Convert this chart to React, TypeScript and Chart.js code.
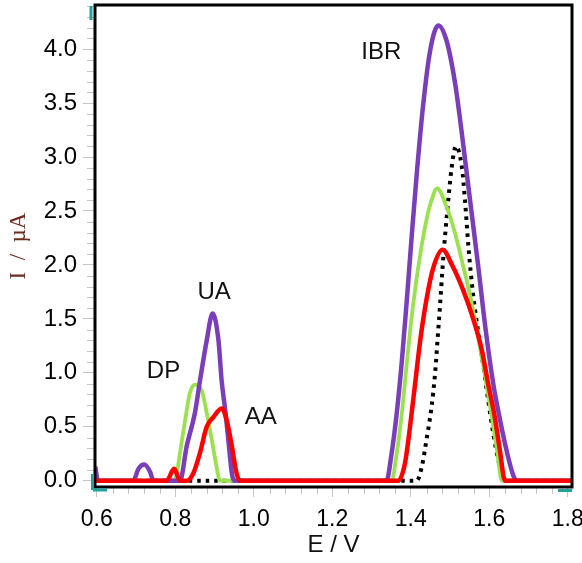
import React, { useEffect, useRef } from "react";
import { Chart, registerables } from "chart.js";

Chart.register(...registerables);

// ---- Axis ranges (E / V on x, I / µA on y) ----
const X_MIN = 0.5954;
const X_MAX = 1.8107;
const Y_MIN = -0.058;
const Y_MAX = 4.409;
const X_MAJOR_STEP = 0.2;
const X_MINOR_STEP = 0.04;
const Y_MAJOR_STEP = 0.5;
const Y_MINOR_STEP = 0.1;

// ---- Purple trace ----
const purpleE = [0.596, 0.603, 0.693, 0.706, 0.721, 0.736, 0.744, 0.812, 0.829, 0.85, 0.863, 0.88, 0.895, 0.91, 0.918, 0.928, 0.937, 0.944, 0.95, 1.338, 1.351, 1.364, 1.377, 1.39, 1.403, 1.416, 1.432, 1.449, 1.47, 1.491, 1.513, 1.53, 1.551, 1.572, 1.59, 1.61, 1.627, 1.644, 1.661, 1.67, 1.809];
const purpleI = [0.13, 0, 0, 0.11, 0.15, 0.08, 0, 0, 0.32, 0.63, 0.93, 1.3, 1.55, 1.3, 0.93, 0.63, 0.31, 0.07, 0, 0, 0.25, 0.62, 1.1, 1.68, 2.3, 2.88, 3.5, 3.98, 4.22, 4.08, 3.68, 3.22, 2.6, 1.98, 1.42, 0.9, 0.57, 0.28, 0.05, 0, 0];

// ---- Green trace ----
const greenE = [0.596, 0.602, 0.795, 0.803, 0.812, 0.825, 0.837, 0.85, 0.867, 0.88, 0.893, 0.905, 0.914, 1.351, 1.364, 1.377, 1.389, 1.4, 1.412, 1.425, 1.44, 1.453, 1.467, 1.491, 1.513, 1.534, 1.551, 1.568, 1.585, 1.602, 1.619, 1.632, 1.809];
const greenI = [0.08, 0, 0, 0.05, 0.26, 0.56, 0.81, 0.89, 0.84, 0.63, 0.38, 0.13, 0, 0, 0.25, 0.62, 1.06, 1.45, 1.8, 2.12, 2.42, 2.6, 2.71, 2.54, 2.29, 1.98, 1.72, 1.4, 1.06, 0.69, 0.3, 0, 0];

// ---- Red trace ----
const redE = [0.596, 0.778, 0.797, 0.812, 0.829, 0.846, 0.863, 0.88, 0.897, 0.918, 0.931, 0.944, 0.956, 0.965, 1.368, 1.385, 1.398, 1.411, 1.424, 1.44, 1.457, 1.481, 1.505, 1.532, 1.559, 1.581, 1.597, 1.614, 1.627, 1.64, 1.809];
const redI = [0, 0, 0.11, 0, 0, 0.07, 0.26, 0.5, 0.59, 0.67, 0.56, 0.32, 0.07, 0, 0, 0.16, 0.5, 0.9, 1.3, 1.68, 1.97, 2.14, 2.0, 1.78, 1.5, 1.21, 0.9, 0.59, 0.28, 0, 0];

// ---- Black dotted trace ----
const blackE = [0.596, 1.415, 1.428, 1.44, 1.453, 1.462, 1.468, 1.475, 1.481, 1.488, 1.496, 1.504, 1.515, 1.53, 1.538, 1.547, 1.558, 1.572, 1.585, 1.597, 1.61, 1.623, 1.636, 1.642, 1.809];
const blackI = [0, 0, 0.13, 0.38, 0.69, 1.0, 1.3, 1.65, 1.98, 2.3, 2.62, 2.9, 3.1, 2.91, 2.6, 2.16, 1.75, 1.37, 1.06, 0.75, 0.44, 0.19, 0.04, 0, 0];

// ---- Peak annotations ----
const peakLabels = ["IBR", "UA", "DP", "AA"];
const peakLabelE = [1.325, 0.899, 0.77, 1.018];
const peakLabelI = [3.97, 1.744, 1.012, 0.586];

const SANS = "'Liberation Sans', Arial, sans-serif";
const SERIF = "'Liberation Serif', 'Times New Roman', serif";

const toPoints = (xs: number[], ys: number[]) => xs.map((x, i) => ({ x, y: ys[i] }));

const isMultiple = (v: number, step: number) => Math.abs(v / step - Math.round(v / step)) < 1e-6;

const framePlugin = {
  id: "frame",
  afterDatasetsDraw(chart: any) {
    const { ctx, scales } = chart;
    ctx.save();
    ctx.fillStyle = "#111";
    ctx.font = `24px ${SANS}`;
    ctx.textAlign = "center";
    ctx.textBaseline = "middle";
    peakLabels.forEach((t, i) => {
      ctx.fillText(t, scales.x.getPixelForValue(peakLabelE[i]), scales.y.getPixelForValue(peakLabelI[i]));
    });
    ctx.restore();
  },
  afterDraw(chart: any) {
    const { ctx, chartArea, scales } = chart;
    const { left, right, top, bottom } = chartArea;
    ctx.save();
    // minor ticks
    ctx.strokeStyle = "#c4c4c4";
    ctx.lineWidth = 1;
    ctx.beginPath();
    for (let k = 0; ; k++) {
      const v = 0.6 + k * X_MINOR_STEP;
      if (v > X_MAX) break;
      if (isMultiple(v, X_MAJOR_STEP)) continue;
      const px = Math.round(scales.x.getPixelForValue(v)) + 0.5;
      ctx.moveTo(px, bottom);
      ctx.lineTo(px, bottom + 7);
    }
    for (let k = 0; ; k++) {
      const v = k * Y_MINOR_STEP;
      if (v > Y_MAX) break;
      if (isMultiple(v, Y_MAJOR_STEP)) continue;
      const py = Math.round(scales.y.getPixelForValue(v)) + 0.5;
      ctx.moveTo(left - 8, py);
      ctx.lineTo(left, py);
    }
    ctx.stroke();
    // frame
    ctx.strokeStyle = "#000";
    ctx.lineWidth = 3;
    ctx.strokeRect(left, top, right - left, bottom - top);
    // small teal handles
    ctx.fillStyle = "#1fa39c";
    ctx.fillRect(left - 5.5, top + 1, 3, 14);
    ctx.fillRect(left - 4, bottom - 13, 3, 16);
    ctx.fillRect(left - 2, bottom + 1.5, 14, 3);
    ctx.fillRect(right - 14, bottom + 2, 14, 3);
    ctx.restore();
  },
};

export default function App() {
  const canvasRef = useRef<HTMLCanvasElement | null>(null);

  useEffect(() => {
    const canvas = canvasRef.current;
    if (!canvas) return;
    const chart = new Chart(canvas, {
      type: "line",
      data: {
        datasets: [
          {
            label: "red",
            data: toPoints(redE, redI),
            borderColor: "#ff0000",
            borderWidth: 4.5,
          },
          {
            label: "purple",
            data: toPoints(purpleE, purpleI),
            borderColor: "#7a3fb8",
            borderWidth: 4.5,
          },
          {
            label: "green",
            data: toPoints(greenE, greenI),
            borderColor: "#9be04f",
            borderWidth: 3.8,
          },
          {
            label: "black",
            data: toPoints(blackE, blackI),
            borderColor: "#000000",
            borderWidth: 4,
            borderDash: [3.5, 5],
          },
        ] as any,
      },
      options: {
        animation: false,
        responsive: false,
        devicePixelRatio: 1,
        parsing: false as any,
        normalized: true,
        layout: { padding: { left: 0, top: 5, right: 10, bottom: 0 } },
        elements: {
          point: { radius: 0, hoverRadius: 0 },
          line: { cubicInterpolationMode: "monotone", fill: false, borderCapStyle: "butt", borderJoinStyle: "round" },
        },
        plugins: {
          legend: { display: false },
          tooltip: { enabled: false },
          title: { display: false },
        },
        events: [],
        scales: {
          x: {
            type: "linear",
            min: X_MIN,
            max: X_MAX,
            afterFit: (s: any) => {
              s.height = 76;
              s.paddingLeft = 0;
              s.paddingRight = 0;
            },
            ticks: {
              stepSize: X_MAJOR_STEP,
              includeBounds: false,
              autoSkip: false,
              maxRotation: 0,
              minRotation: 0,
              padding: 9,
              color: "#000",
              font: { family: SANS, size: 23 },
              callback: (v: any) => Number(v).toFixed(1),
            },
            grid: {
              drawOnChartArea: false,
              drawTicks: true,
              tickLength: 10,
              color: "#c4c4c4",
              tickColor: "#c4c4c4",
            },
            border: { display: false },
            title: {
              display: true,
              text: "E / V",
              color: "#111",
              font: { family: SANS, size: 24 },
              padding: { top: 0, bottom: 3 },
            },
          },
          y: {
            type: "linear",
            min: Y_MIN,
            max: Y_MAX,
            afterFit: (s: any) => {
              s.width = 95;
              s.paddingTop = 0;
              s.paddingBottom = 0;
            },
            ticks: {
              stepSize: Y_MAJOR_STEP,
              includeBounds: false,
              autoSkip: false,
              padding: 6,
              color: "#000",
              font: { family: SANS, size: 24 },
              callback: (v: any) => Number(v).toFixed(1),
            },
            grid: {
              drawOnChartArea: false,
              drawTicks: true,
              tickLength: 12,
              color: "#c4c4c4",
              tickColor: "#c4c4c4",
            },
            border: { display: false },
            title: {
              display: true,
              text: "I  /  µA",
              color: "#6b2d1f",
              font: { family: SERIF, size: 23 },
              padding: { top: 5, bottom: 0 },
            },
          },
        },
      } as any,
      plugins: [framePlugin],
    });
    return () => chart.destroy();
  }, []);

  return (
    <div style={{ position: "fixed", left: 0, top: 0, width: 582, height: 563, background: "#fff" }}>
      <canvas ref={canvasRef} width={582} height={563} style={{ display: "block", width: 582, height: 563 }} />
    </div>
  );
}
